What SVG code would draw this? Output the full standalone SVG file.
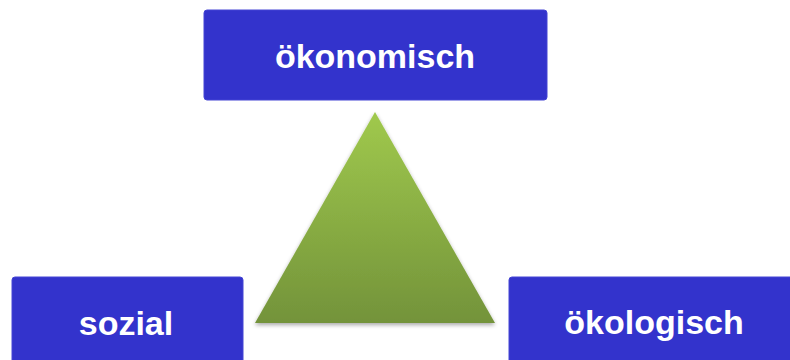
<svg xmlns="http://www.w3.org/2000/svg" width="790" height="360" viewBox="0 0 790 360">
<style>
.box{fill:#3333CC;stroke:#4444D4;stroke-width:1}
.lbl{font-family:"Liberation Sans",Arial,sans-serif;font-weight:bold;font-size:34px;fill:#ffffff;text-anchor:middle}
</style>
<defs>
<linearGradient id="g" x1="0" y1="0" x2="0" y2="1">
<stop offset="0" stop-color="#a0c94d"/>
<stop offset="1" stop-color="#73933a"/>
</linearGradient>
<filter id="sh" x="-10%" y="-10%" width="120%" height="130%">
<feGaussianBlur in="SourceAlpha" stdDeviation="2"/>
<feOffset dy="2" result="b"/>
<feComponentTransfer><feFuncA type="linear" slope="0.35"/></feComponentTransfer>
<feMerge><feMergeNode/><feMergeNode in="SourceGraphic"/></feMerge>
</filter>
</defs>
<g id="triangle">
<polygon points="375,112 495,323 255,323" fill="url(#g)" filter="url(#sh)"/>
</g>
<g id="connectors"></g>
<g id="oekonomisch">
<rect class="box" x="204" y="10" width="343" height="90" rx="3"/>
<text class="lbl" x="375" y="68">ökonomisch</text>
</g>
<g id="sozial">
<rect class="box" x="12" y="277" width="231" height="100" rx="3"/>
<text class="lbl" x="126" y="335">sozial</text>
</g>
<g id="oekologisch">
<rect class="box" x="509" y="277" width="290" height="100" rx="3"/>
<text class="lbl" x="654" y="334">ökologisch</text>
</g>
</svg>
